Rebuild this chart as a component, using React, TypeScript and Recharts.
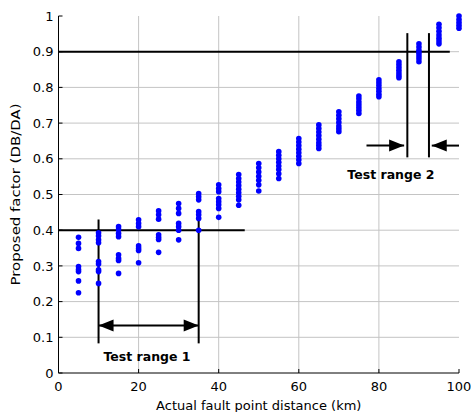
import { ComposedChart, Scatter, XAxis, YAxis, ReferenceLine, ReferenceDot } from 'recharts';

// fault distances (km) and the proposed factor values read at each one
const distances = [5, 10, 15, 20, 25, 30, 35, 40, 45, 50, 55, 60, 65, 70, 75, 80, 85, 90, 95, 100];
const factors = [
  [0.38, 0.363, 0.349, 0.298, 0.29, 0.284, 0.258, 0.225],
  [0.393, 0.384, 0.373, 0.365, 0.312, 0.305, 0.289, 0.284, 0.251],
  [0.41, 0.402, 0.391, 0.382, 0.331, 0.321, 0.315, 0.279],
  [0.429, 0.419, 0.41, 0.356, 0.349, 0.343, 0.309],
  [0.454, 0.443, 0.431, 0.387, 0.38, 0.374, 0.338],
  [0.475, 0.461, 0.447, 0.419, 0.41, 0.4, 0.373],
  [0.503, 0.494, 0.485, 0.452, 0.443, 0.433, 0.4],
  [0.527, 0.517, 0.508, 0.489, 0.48, 0.471, 0.461, 0.436],
  [0.556, 0.545, 0.535, 0.525, 0.515, 0.505, 0.495, 0.485, 0.47],
  [0.587, 0.575, 0.563, 0.551, 0.54, 0.527, 0.51],
  [0.62, 0.61, 0.6, 0.59, 0.58, 0.57, 0.558, 0.545],
  [0.657, 0.647, 0.637, 0.627, 0.617, 0.607, 0.597, 0.587],
  [0.695, 0.685, 0.675, 0.665, 0.655, 0.645, 0.637, 0.629],
  [0.732, 0.722, 0.712, 0.702, 0.692, 0.684, 0.676],
  [0.776, 0.768, 0.759, 0.751, 0.743, 0.735, 0.727],
  [0.821, 0.813, 0.805, 0.797, 0.789, 0.781, 0.774],
  [0.872, 0.864, 0.856, 0.848, 0.84, 0.833, 0.827],
  [0.922, 0.913, 0.904, 0.896, 0.888, 0.88, 0.872],
  [0.977, 0.967, 0.957, 0.947, 0.938, 0.93, 0.922],
  [1.0, 0.99, 0.982, 0.974, 0.966],
];
const xTicks = [0, 20, 40, 60, 80, 100];
const yTicks = [0, 0.1, 0.2, 0.3, 0.4, 0.5, 0.6, 0.7, 0.8, 0.9, 1];

// test range annotations (data coords)
const range1 = { from: 10, to: 35, top: 0.43, bottom: 0.083, arrowY: 0.133 };
const range2 = { from: 87.1, to: 92.5, top: 0.952, bottom: 0.604, arrowY: 0.637, tailLeft: 76.9, tailRight: 100 };
const limitLines = [
  { y: 0.4, x2: 46.5 },
  { y: 0.9, x2: 97.7 },
];

const points = distances.flatMap((d, i) => factors[i].map((f) => ({ distance: d, factor: f })));

const FONT = 'DejaVu Sans, sans-serif';
const GRID = '#c4c4c4';

const XTick = (p: any) => (
  <g>
    <line x1={p.x} y1={p.y} x2={p.x} y2={p.y - 4} stroke="#000" />
    <text x={p.x} y={p.y + 18} textAnchor="middle" fontSize={13} fontFamily={FONT} fill="#000">
      {p.payload.value}
    </text>
  </g>
);

const YTick = (p: any) => (
  <g>
    <line x1={p.x} y1={p.y} x2={p.x + 4} y2={p.y} stroke="#000" />
    <text x={p.x - 5} y={p.y} dy="0.36em" textAnchor="end" fontSize={13} fontFamily={FONT} fill="#000">
      {p.payload.value}
    </text>
  </g>
);

const TopTick = (p: any) => <line x1={p.x} y1={p.y} x2={p.x} y2={p.y + 4} stroke="#000" />;
const RightTick = (p: any) => <line x1={p.x} y1={p.y} x2={p.x - 4} y2={p.y} stroke="#000" />;

const Dot = (p: any) => <circle cx={p.cx} cy={p.cy} r={2.8} fill="#0000ff" />;

// line with filled arrow heads
const arrow = (heads: 'start' | 'end' | 'both') => (p: any) => {
  const { x1, y1, x2, y2 } = p;
  const len = Math.hypot(x2 - x1, y2 - y1) || 1;
  const ux = (x2 - x1) / len;
  const uy = (y2 - y1) / len;
  const hl = 15;
  const hw = 6;
  const head = (tx: number, ty: number, dx: number, dy: number) => {
    const bx = tx - dx * hl;
    const by = ty - dy * hl;
    return `${tx},${ty} ${bx - dy * hw},${by + dx * hw} ${bx + dy * hw},${by - dx * hw}`;
  };
  return (
    <g>
      <line x1={x1} y1={y1} x2={x2} y2={y2} stroke="#000" strokeWidth={2} />
      {(heads === 'start' || heads === 'both') && <polygon points={head(x1, y1, -ux, -uy)} fill="#000" />}
      {(heads === 'end' || heads === 'both') && <polygon points={head(x2, y2, ux, uy)} fill="#000" />}
    </g>
  );
};

const textShape = (value: string) => (p: any) => (
  <text x={p.cx} y={p.cy} dy="0.36em" textAnchor="middle" fontSize={12.5} fontWeight="bold" fontFamily={FONT} fill="#000">
    {value}
  </text>
);

const YLabel = (p: any) => {
  const vb = p.viewBox;
  const x = vb.x + 15;
  const y = vb.y + vb.height / 2;
  return (
    <text
      transform={`translate(${x},${y}) rotate(-90) scale(1.15,1)`}
      textAnchor="middle"
      dy="0.36em"
      fontSize={13}
      fontFamily={FONT}
      fill="#000"
    >
      Proposed factor (DB/DA)
    </text>
  );
};

export default function App() {
  return (
    <div style={{ position: 'absolute', left: 0, top: 0, background: '#fff' }}>
      <ComposedChart width={471} height={412} margin={{ top: 16, right: 12, left: 0, bottom: 0 }}>
        <XAxis
          type="number"
          dataKey="distance"
          domain={[0, 100]}
          ticks={xTicks}
          height={39}
          tickSize={0}
          tickMargin={0}
          tick={<XTick />}
          stroke="#000"
          label={{ value: 'Actual fault point distance (km)', position: 'insideBottom', offset: 2, fontSize: 13, fontFamily: FONT, fill: '#000' }}
        />
        <XAxis xAxisId="top" orientation="top" type="number" domain={[0, 100]} ticks={xTicks} height={0} tickSize={0} tick={<TopTick />} stroke="#000" />
        <YAxis
          type="number"
          dataKey="factor"
          domain={[0, 1]}
          ticks={yTicks}
          width={58.5}
          tickSize={0}
          tickMargin={0}
          tick={<YTick />}
          stroke="#000"
          label={<YLabel />}
        />
        <YAxis yAxisId="right" orientation="right" type="number" domain={[0, 1]} ticks={yTicks} width={0} tickSize={0} tick={<RightTick />} stroke="#000" />

        {/* grid */}
        {xTicks.slice(1, -1).map((t) => (
          <ReferenceLine key={`gx${t}`} ifOverflow="visible" segment={[{ x: t, y: 0 }, { x: t, y: 1 }]} stroke={GRID} strokeWidth={1} />
        ))}
        {yTicks.slice(1, -1).map((t) => (
          <ReferenceLine key={`gy${t}`} ifOverflow="visible" segment={[{ x: 0, y: t }, { x: 100, y: t }]} stroke={GRID} strokeWidth={1} />
        ))}

        <Scatter data={points} shape={<Dot />} isAnimationActive={false} />

        {limitLines.map((l) => (
          <ReferenceLine key={l.y} segment={[{ x: 0, y: l.y }, { x: l.x2, y: l.y }]} stroke="#000" strokeWidth={2} />
        ))}

        <ReferenceLine segment={[{ x: range1.from, y: range1.top }, { x: range1.from, y: range1.bottom }]} stroke="#000" strokeWidth={2} />
        <ReferenceLine segment={[{ x: range1.to, y: range1.top }, { x: range1.to, y: range1.bottom }]} stroke="#000" strokeWidth={2} />
        <ReferenceLine segment={[{ x: range1.from, y: range1.arrowY }, { x: range1.to, y: range1.arrowY }]} shape={arrow('both')} />

        <ReferenceLine segment={[{ x: range2.from, y: range2.top }, { x: range2.from, y: range2.bottom }]} stroke="#000" strokeWidth={2} />
        <ReferenceLine segment={[{ x: range2.to, y: range2.top }, { x: range2.to, y: range2.bottom }]} stroke="#000" strokeWidth={2} />
        <ReferenceLine segment={[{ x: range2.tailLeft, y: range2.arrowY }, { x: range2.from - 0.8, y: range2.arrowY }]} shape={arrow('end')} />
        <ReferenceLine segment={[{ x: range2.tailRight, y: range2.arrowY }, { x: range2.to + 0.7, y: range2.arrowY }]} shape={arrow('end')} />

        <ReferenceDot x={22.1} y={0.046} r={0} shape={textShape('Test range 1')} />
        <ReferenceDot x={83} y={0.555} r={0} shape={textShape('Test range 2')} />
      </ComposedChart>
    </div>
  );
}
